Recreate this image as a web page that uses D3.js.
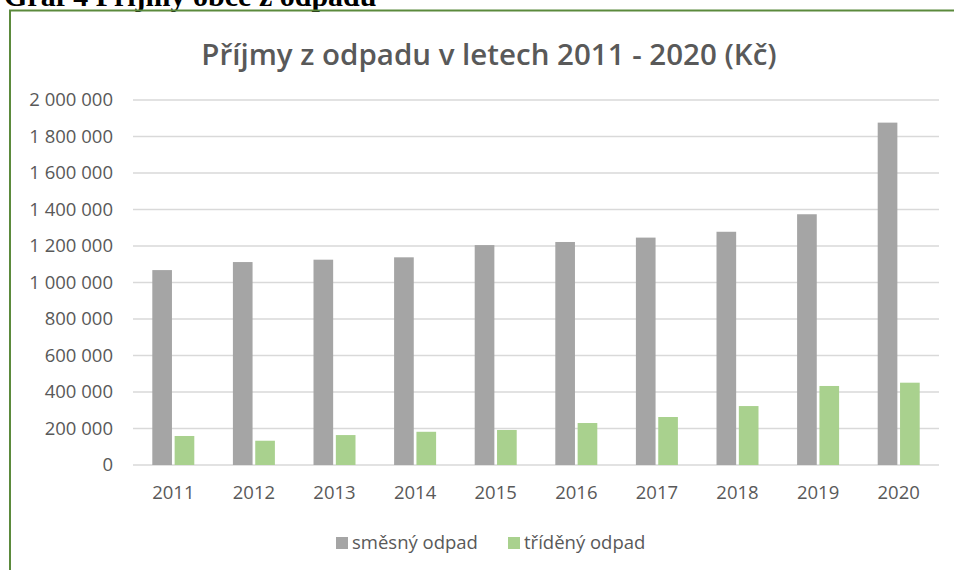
<!DOCTYPE html>
<html>
<head>
<meta charset="utf-8">
<script src="https://cdn.jsdelivr.net/npm/d3@7"></script>
<style>
  body { margin: 0; background: #fff; }
  svg { display: block; }
</style>
</head>
<body>
<div id="chart"></div>
<script>
// chart data
const years = ['2011', '2012', '2013', '2014', '2015', '2016', '2017', '2018', '2019', '2020'];
const seriesNames = ['směsný odpad', 'tříděný odpad'];
const smesny = [1068000, 1112000, 1125000, 1138000, 1205000, 1222000, 1246000, 1278000, 1374000, 1876000];
const trideny = [159000, 133000, 164000, 182000, 192000, 230000, 263000, 323000, 433000, 451000];
const yTicks = [0, 200000, 400000, 600000, 800000, 1000000, 1200000, 1400000, 1600000, 1800000, 2000000];

const colors = ['#a5a5a5', '#a9d18e'];
const textColor = '#595959';

const svgWidth = 954,
  svgHeight = 570;
const margin = { top: 100, right: 15, bottom: 105, left: 133 };
const width = svgWidth - margin.left - margin.right;
const height = svgHeight - margin.top - margin.bottom;

const svg = d3
  .select('#chart')
  .append('svg')
  .attr('width', svgWidth)
  .attr('height', svgHeight);

// heading of the document page, cut off at the top
svg
  .append('text')
  .attr('x', 4)
  .attr('y', 6)
  .style('font-family', '"Liberation Serif", "Times New Roman", serif')
  .style('font-weight', 'bold')
  .style('font-size', '30px')
  .attr('fill', '#000')
  .text('Graf 4 Příjmy obce z odpadu');

// green frame (top and left edges)
svg
  .append('path')
  .attr('d', `M10,${svgHeight} V10.5 H${svgWidth}`)
  .attr('fill', 'none')
  .attr('stroke', '#5b8a3c')
  .attr('stroke-width', 2);

const g = svg
  .append('g')
  .attr('transform', `translate(${margin.left},${margin.top})`);

const x = d3.scaleBand().domain(years).range([0, width]).padding(0);
const x1 = d3
  .scaleBand()
  .domain(seriesNames)
  .range([x.bandwidth() / 2 - 21, x.bandwidth() / 2 + 21])
  .paddingInner(0.12);
const y = d3.scaleLinear().domain([0, 2000000]).range([height, 0]);

const fmt = d3.formatLocale({ decimal: ',', thousands: ' ', grouping: [3], currency: ['', ' Kč'] }).format(',d');

// gridlines
g.append('g')
  .selectAll('line')
  .data(yTicks)
  .enter()
  .append('line')
  .attr('x1', 0)
  .attr('x2', width)
  .attr('y1', (d) => y(d))
  .attr('y2', (d) => y(d))
  .attr('stroke', '#d9d9d9')
  .attr('stroke-width', 1.5);

// y axis labels
const yAxis = g
  .append('g')
  .call(d3.axisLeft(y).tickValues(yTicks).tickFormat(fmt).tickSize(0).tickPadding(20));
yAxis.select('.domain').remove();
yAxis
  .selectAll('text')
  .attr('fill', textColor)
  .style('font-family', '"Open Sans", sans-serif')
  .style('font-size', '18.5px');

// x axis labels
const xAxis = g
  .append('g')
  .attr('transform', `translate(0,${height})`)
  .call(d3.axisBottom(x).tickSize(0).tickPadding(21));
xAxis.select('.domain').remove();
xAxis
  .selectAll('text')
  .attr('fill', textColor)
  .style('font-family', '"Open Sans", sans-serif')
  .style('font-size', '18.5px');

// bars
const rows = years.map((yr, i) => ({ year: yr, values: [smesny[i], trideny[i]] }));
const groups = g
  .selectAll('.year')
  .data(rows)
  .enter()
  .append('g')
  .attr('class', 'year')
  .attr('transform', (d) => `translate(${x(d.year)},0)`);

groups
  .selectAll('rect')
  .data((d) => d.values.map((v, i) => ({ name: seriesNames[i], value: v, i })))
  .enter()
  .append('rect')
  .attr('x', (d) => x1(d.name))
  .attr('width', x1.bandwidth())
  .attr('y', (d) => y(d.value))
  .attr('height', (d) => height - y(d.value))
  .attr('fill', (d) => colors[d.i]);

// chart title
svg
  .append('text')
  .attr('x', 489)
  .attr('y', 65)
  .attr('text-anchor', 'middle')
  .attr('fill', textColor)
  .style('font-family', '"Open Sans", sans-serif')
  .style('font-size', '29.5px')
  .style('font-weight', 600)
  .text('Příjmy z odpadu v letech 2011 - 2020 (Kč)');

// legend
const legend = svg.append('g').attr('transform', 'translate(336,543)');
const legendX = [0, 172];
seriesNames.forEach((name, i) => {
  const item = legend.append('g').attr('transform', `translate(${legendX[i]},0)`);
  item
    .append('rect')
    .attr('x', 0)
    .attr('y', -6)
    .attr('width', 12)
    .attr('height', 12)
    .attr('fill', colors[i]);
  item
    .append('text')
    .attr('x', 16)
    .attr('y', 0)
    .attr('dy', '0.35em')
    .attr('fill', textColor)
    .style('font-family', '"Open Sans", sans-serif')
    .style('font-size', '18.5px')
    .text(name);
});
</script>
</body>
</html>
